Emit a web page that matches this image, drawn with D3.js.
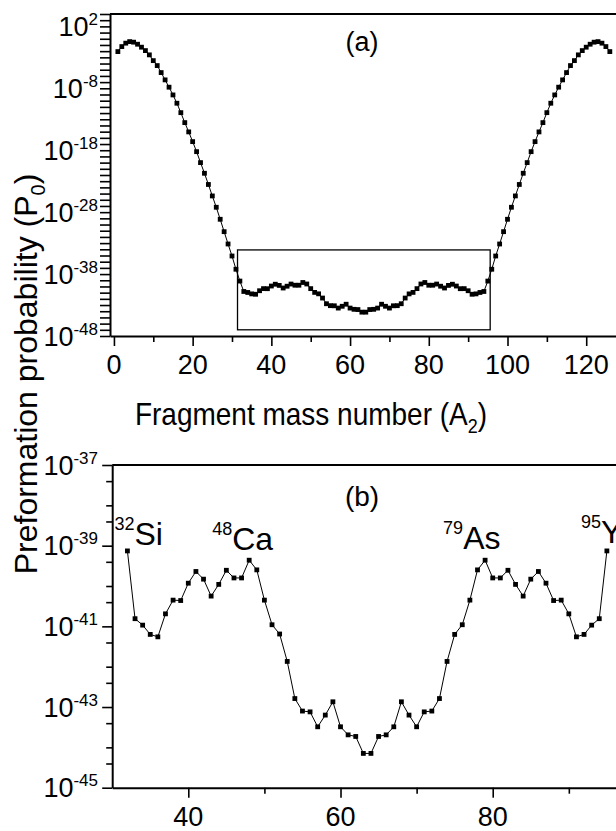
<!DOCTYPE html>
<html>
<head>
<meta charset="utf-8">
<script src="https://cdn.jsdelivr.net/npm/d3@7/dist/d3.min.js"></script>
<style>
  body { margin: 0; background: #fff; }
  text { font-family: "Liberation Sans", Arial, sans-serif; fill: #000; }
</style>
</head>
<body>
<div id="chart"></div>
<script>
/* Data: fragment mass number A2 and log10 of preformation probability P0 */
var fragmentMass = [
  1, 2, 3, 4, 5, 6, 7, 8, 9, 10, 11, 12, 13, 14, 15, 16, 17, 18, 19, 20,
  21, 22, 23, 24, 25, 26, 27, 28, 29, 30, 31, 32, 33, 34, 35, 36, 37, 38, 39, 40,
  41, 42, 43, 44, 45, 46, 47, 48, 49, 50, 51, 52, 53, 54, 55, 56, 57, 58, 59, 60,
  61, 62, 63, 64, 65, 66, 67, 68, 69, 70, 71, 72, 73, 74, 75, 76, 77, 78, 79, 80,
  81, 82, 83, 84, 85, 86, 87, 88, 89, 90, 91, 92, 93, 94, 95, 96, 97, 98, 99, 100,
  101, 102, 103, 104, 105, 106, 107, 108, 109, 110, 111, 112, 113, 114, 115, 116,
  117, 118, 119, 120, 121, 122, 123, 124, 125, 126];

var logP0 = [
  -2.07, -1.26, -0.71, -0.46, -0.55, -0.88, -1.36, -1.91, -2.60, -3.53,
  -4.33, -5.46, -6.64, -7.82, -9.07, -10.41, -11.93, -13.54, -15.04, -16.61,
  -18.23, -20.00, -21.72, -23.53, -25.38, -27.21, -29.15, -31.15, -33.14, -35.08,
  -37.22, -39.13, -40.81, -40.97, -41.20, -41.26, -40.69, -40.35, -40.36, -39.93,
  -39.64, -39.83, -40.25, -39.96, -39.61, -39.80, -39.80, -39.36, -39.60, -40.35,
  -40.96, -41.19, -41.87, -42.79, -43.10, -43.12, -43.49, -43.20, -42.87, -43.49,
  -43.69, -43.73, -44.15, -44.15, -43.73, -43.69, -43.49, -42.87, -43.20, -43.49,
  -43.12, -43.10, -42.79, -41.87, -41.20, -40.96, -40.35, -39.60, -39.36, -39.80,
  -39.80, -39.61, -39.96, -40.25, -39.83, -39.64, -39.93, -40.36, -40.35, -40.69,
  -41.26, -41.20, -40.97, -40.81, -39.13, -37.22, -35.08, -33.14, -31.15, -29.15,
  -27.21, -25.38, -23.53, -21.72, -20.00, -18.23, -16.61, -15.04, -13.54, -11.93,
  -10.41, -9.07, -7.82, -6.64, -5.46, -4.33, -3.53, -2.60, -1.91, -1.36,
  -0.88, -0.55, -0.46, -0.71, -1.26, -2.07];

/* Ticks */
var xTicksA = [0, 20, 40, 60, 80, 100, 120],
    xMinorA = [10, 30, 50, 70, 90, 110],
    yLabelExpA = [2, -8, -18, -28, -38, -48],
    xTicksB = [40, 60, 80],
    xMinorB = [50, 70, 90],
    yLabelExpB = [-37, -39, -41, -43, -45];

/* Zoom window of panel (b) drawn in panel (a): A2 from/to, log P0 from/to */
var boxMass = [31.4, 95.6],
    boxLogP = [-34.1, -47.0];

/* Cluster labels in panel (b) */
var clusterMass = [32, 48, 79, 95],
    clusterSymbol = ["Si", "Ca", "As", "Y"];

/* Settings */
var width = 616,
    height = 831,
    tickFont = 27,
    supFont = 17,
    labelDx = [-13, -37, -42, -26],
    labelDy = [-6, -10, -11, -8];

var points = fragmentMass.map(function(a, i) {
  return {a: a, p: Math.pow(10, logP0[i])};
});
var pointsB = points.filter(function(d) { return d.a >= 32 && d.a <= 95; });

var svg = d3.select("#chart").append("svg")
    .attr("width", width)
    .attr("height", height)
    .attr("viewBox", "0 0 " + width + " " + height);

/* Scales */
var xA = d3.scaleLinear().domain([-1, 128]).range([110, 617.7]),
    yA = d3.scaleLog().domain([1e-48, 1e4]).range([336, 14]),
    xB = d3.scaleLinear().domain([30, 97]).range([112.2, 622.1]),
    yB = d3.scaleLog().domain([1e-45, 1e-37]).range([787.7, 465]);

function pow10(e) { return Math.pow(10, e); }

function drawPanel(x, y, xMajor, xMinor, yMajorExp, yMinorExp, labelExp, data) {
  var g = svg.append("g");
  var x0 = x.range()[0], y0 = y.range()[0], y1 = y.range()[1];

  /* minor ticks first, then major axes */
  g.append("g")
    .attr("transform", "translate(0," + y0 + ")")
    .call(d3.axisBottom(x).tickValues(xMinor).tickSize(6).tickSizeOuter(0).tickFormat(""))
    .call(function(s) { s.select(".domain").remove(); });
  g.append("g")
    .attr("transform", "translate(" + x0 + ",0)")
    .call(d3.axisLeft(y).tickValues(yMinorExp.map(pow10)).tickSize(6).tickSizeOuter(0).tickFormat(""))
    .call(function(s) { s.select(".domain").remove(); });

  g.append("g")
    .attr("transform", "translate(0," + y0 + ")")
    .call(d3.axisBottom(x).tickValues(xMajor).tickSize(10).tickSizeOuter(0).tickFormat(""));
  g.append("g")
    .attr("transform", "translate(" + x0 + ",0)")
    .call(d3.axisLeft(y).tickValues(yMajorExp.map(pow10)).tickSize(10).tickSizeOuter(0).tickFormat(""));

  g.selectAll(".domain").attr("stroke-width", 2);
  g.selectAll(".tick line").attr("stroke-width", 1.6);

  /* top frame line */
  g.append("line")
    .attr("x1", x0).attr("x2", x.range()[1])
    .attr("y1", y1).attr("y2", y1)
    .attr("stroke", "black")
    .attr("stroke-width", 2);

  /* x tick labels */
  g.selectAll(".xlab")
    .data(xMajor)
    .enter().append("text")
    .attr("x", function(d) { return x(d); })
    .attr("y", y0 + 38)
    .attr("text-anchor", "middle")
    .attr("font-size", tickFont)
    .text(function(d) { return d; });

  /* y tick labels 10^n */
  var yl = g.selectAll(".ylab")
    .data(labelExp)
    .enter().append("text")
    .attr("x", 98)
    .attr("y", function(d) { return y(pow10(d)) + 9.5; })
    .attr("text-anchor", "end")
    .attr("font-size", tickFont);
  yl.append("tspan").text("10");
  yl.append("tspan")
    .attr("font-size", supFont)
    .attr("dy", -11)
    .text(function(d) { return d; });

  /* data */
  var line = d3.line()
    .x(function(d) { return x(d.a); })
    .y(function(d) { return y(d.p); });

  g.append("path")
    .datum(data)
    .attr("fill", "none")
    .attr("stroke", "black")
    .attr("stroke-width", 1)
    .attr("d", line);

  g.selectAll(".pt")
    .data(data)
    .enter().append("rect")
    .attr("x", function(d) { return x(d.a) - 2.4; })
    .attr("y", function(d) { return y(d.p) - 2.4; })
    .attr("width", 4.8)
    .attr("height", 4.8)
    .attr("fill", "black");

  return g;
}

/* Panel (a) */
var gA = drawPanel(xA, yA, xTicksA, xMinorA,
    d3.range(-48, 5), [], yLabelExpA, points);

gA.append("rect")
  .attr("x", xA(boxMass[0]))
  .attr("y", yA(pow10(boxLogP[0])))
  .attr("width", xA(boxMass[1]) - xA(boxMass[0]))
  .attr("height", yA(pow10(boxLogP[1])) - yA(pow10(boxLogP[0])))
  .attr("fill", "none")
  .attr("stroke", "black")
  .attr("stroke-width", 1.3);

gA.append("text")
  .attr("x", 362)
  .attr("y", 51)
  .attr("text-anchor", "middle")
  .attr("font-size", 27)
  .text("(a)");

/* Panel (b) */
var gB = drawPanel(xB, yB, xTicksB, xMinorB,
    yLabelExpB, [-38, -40, -42, -44, -38.4, -39.4, -40.4, -41.4, -42.4, -43.4, -44.4, -37.4], yLabelExpB, pointsB);

gB.append("text")
  .attr("x", 362)
  .attr("y", 506)
  .attr("text-anchor", "middle")
  .attr("font-size", 28)
  .text("(b)");

var cl = gB.selectAll(".cluster")
  .data(clusterMass)
  .enter().append("text")
  .attr("x", function(d, i) { return xB(d) + labelDx[i]; })
  .attr("y", function(d, i) { return yB(pow10(logP0[fragmentMass.indexOf(d)])) + labelDy[i]; })
  .attr("font-size", 32);
cl.append("tspan")
  .attr("font-size", 18)
  .attr("dy", -15)
  .text(function(d) { return d; });
cl.append("tspan")
  .attr("dy", 15)
  .text(function(d, i) { return clusterSymbol[i]; });

/* Axis titles */
var xt = svg.append("text")
  .attr("transform", "translate(311,425) scale(1,1.15)")
  .attr("text-anchor", "middle")
  .attr("font-size", 28);
xt.append("tspan").text("Fragment mass number (A");
xt.append("tspan").attr("font-size", 18).attr("dy", 7).text("2");
xt.append("tspan").attr("dy", -7).text(")");

var yt = svg.append("text")
  .attr("transform", "translate(37,374) rotate(-90)")
  .attr("text-anchor", "middle")
  .attr("font-size", 32);
yt.append("tspan").text("Preformation probability (P");
yt.append("tspan").attr("font-size", 20).attr("dy", 8).text("0");
yt.append("tspan").attr("dy", -8).text(")");
</script>
</body>
</html>
